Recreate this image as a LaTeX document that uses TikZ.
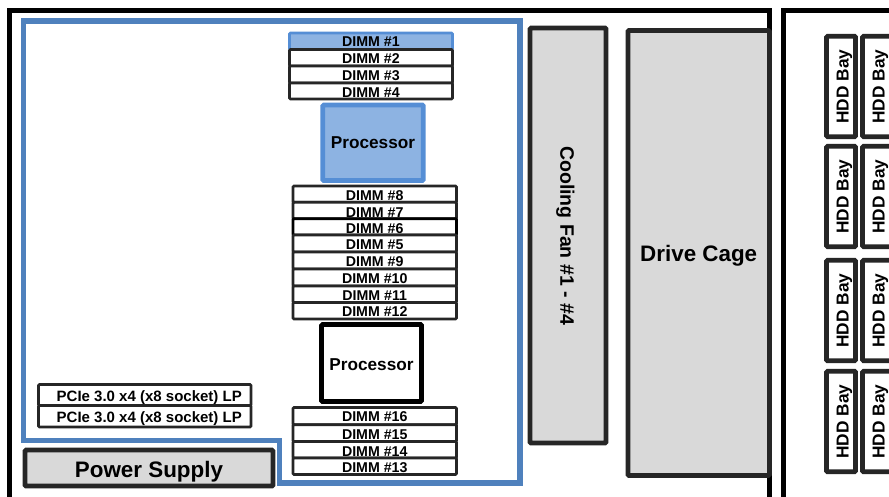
\documentclass[tikz,border=0pt]{standalone}
\usepackage{fontspec}
\setmainfont{Liberation Sans}
\definecolor{ink}{HTML}{262626}
\definecolor{bluea}{HTML}{4F81BD}
\definecolor{blueb}{HTML}{558ED5}
\definecolor{bluef}{HTML}{8DB3E2}
\definecolor{greyf}{HTML}{D9D9D9}
\tikzset{
  box/.style={draw=ink,line width=2.8pt,fill=white,rounded corners=1pt,inner sep=0pt,outer sep=0pt,align=center,font=\bfseries\fontsize{14.2}{14}\selectfont},
  bigbox/.style={box,line width=4.6pt,rounded corners=1pt},
  greybox/.style={bigbox,fill=greyf},
  hddbox/.style={bigbox,rotate=90,minimum width=100.5pt,minimum height=29pt,text height=22pt,text depth=7pt,font=\bfseries\fontsize{17.3}{17}\selectfont},
  frameline/.style={draw=black,line width=4.8pt,miter limit=10},
}
% name, left, right, top, bottom, baseline, style, text
\newcommand\memrow[8]{%
  \pgfmathsetmacro\rowcx{(#2+#3)/2}%
  \pgfmathsetmacro\rowcy{(#4+#5)/2}%
  \pgfmathsetmacro\rowh{#5-#4}%
  \pgfmathsetmacro\rowtop{#6+0.8-#4}%
  \pgfmathsetmacro\rowbot{#5-#6-0.8}%
  \node[box,#7,minimum width={(#3-#2)*1pt},minimum height=\rowh pt,text height=\rowtop pt,text depth=\rowbot pt] (#1) at (\rowcx,\rowcy) {#8};%
}
\begin{document}
\begin{tikzpicture}[x=1pt,y=-1pt]
\useasboundingbox (0,0) rectangle (889,496);
\clip (0,0) rectangle (889,496);
\fill[white] (0,0) rectangle (889,496);
% frames
\draw[frameline] (9.8,500) -- (9.8,10.8) -- (769.5,10.8) -- (769.5,500);
\draw[frameline] (783.5,500) -- (783.5,10.8) -- (900,10.8);
% blue region
\draw[draw=bluea,line width=5.4pt] (23.5,21) -- (520,21) -- (520,483) -- (279.5,483) -- (279.5,440.5) -- (23.5,440.5) -- cycle;
% fan and cage
\node[greybox,rotate=-90,minimum width=415pt,minimum height=76pt,text height=45.7pt,text depth=30.3pt,font=\bfseries\fontsize{19.5}{19}\selectfont] (fan) at (568,235.5) {Cooling Fan \#1 - \#4};
\node[greybox,minimum width=141.5pt,minimum height=445pt,text height=231.2pt,text depth=213.8pt,font=\bfseries\fontsize{22.4}{22}\selectfont] (cage) at (698.7,253) {Drive Cage};
% top DIMMs
\memrow{d1}{289.5}{452.5}{33}{49.5}{45.4}{draw=blueb,fill=bluef}{DIMM \#1}
\memrow{d2}{289.5}{452.5}{49.5}{66}{62.7}{}{DIMM \#2}
\memrow{d3}{289.5}{452.5}{66}{83}{79.3}{}{DIMM \#3}
\memrow{d4}{289.5}{452.5}{83}{99}{96.7}{}{DIMM \#4}
\node[bigbox,draw=blueb,fill=bluef,minimum width=100.5pt,minimum height=75.5pt,text height=43pt,text depth=32.5pt,font=\bfseries\fontsize{17.2}{17}\selectfont] (cpu1) at (373,142.75) {Processor};
% middle DIMMs
\memrow{d8}{293}{456.5}{186}{202.3}{199.3}{}{DIMM \#8}
\memrow{d7}{293}{456.5}{202.3}{218.7}{216.7}{}{DIMM \#7}
\memrow{d6}{293}{456.5}{218.7}{235}{232.7}{draw=black}{DIMM \#6}
\memrow{d5}{293}{456.5}{235}{252}{249}{}{DIMM \#5}
\memrow{d9}{293}{456.5}{252}{269}{266}{}{DIMM \#9}
\memrow{d10}{293}{456.5}{269}{286}{283}{}{DIMM \#10}
\memrow{d11}{293}{456.5}{286}{302.5}{299.5}{}{DIMM \#11}
\memrow{d12}{293}{456.5}{302.5}{319}{315.7}{}{DIMM \#12}
\node[bigbox,draw=black,minimum width=100pt,minimum height=77pt,text height=45.5pt,text depth=31.5pt,font=\bfseries\fontsize{17.2}{17}\selectfont] (cpu2) at (371.5,363) {Processor};
% bottom DIMMs
\memrow{d16}{293}{456.5}{407.5}{424.7}{420.7}{}{DIMM \#16}
\memrow{d15}{293}{456.5}{424.7}{441.5}{438.3}{}{DIMM \#15}
\memrow{d14}{293}{456.5}{441.5}{458}{456}{}{DIMM \#14}
\memrow{d13}{293}{456.5}{458}{474.5}{471.7}{}{DIMM \#13}
% PCIe
\memrow{p1}{38.5}{251}{384.5}{405.5}{400.5}{font=\bfseries\fontsize{15}{15}\selectfont}{\hspace*{9pt}PCIe 3.0 x4 (x8 socket) LP}
\memrow{p2}{38.5}{251}{405.5}{427}{421.5}{font=\bfseries\fontsize{15}{15}\selectfont}{\hspace*{9pt}PCIe 3.0 x4 (x8 socket) LP}
% power supply
\node[greybox,minimum width=248pt,minimum height=36pt,text height=27.7pt,text depth=8.3pt,font=\bfseries\fontsize{22.4}{22}\selectfont] (psu) at (149,468) {Power Supply};
% HDD bays
\node[hddbox] (h11) at (841,86.5) {HDD Bay};
\node[hddbox] (h12) at (877,86.5) {HDD Bay};
\node[hddbox] (h21) at (841,196.5) {HDD Bay};
\node[hddbox] (h22) at (877,196.5) {HDD Bay};
\node[hddbox] (h31) at (841,310.5) {HDD Bay};
\node[hddbox] (h32) at (877,310.5) {HDD Bay};
\node[hddbox] (h41) at (841,421.5) {HDD Bay};
\node[hddbox] (h42) at (877,421.5) {HDD Bay};
\end{tikzpicture}
\end{document}
